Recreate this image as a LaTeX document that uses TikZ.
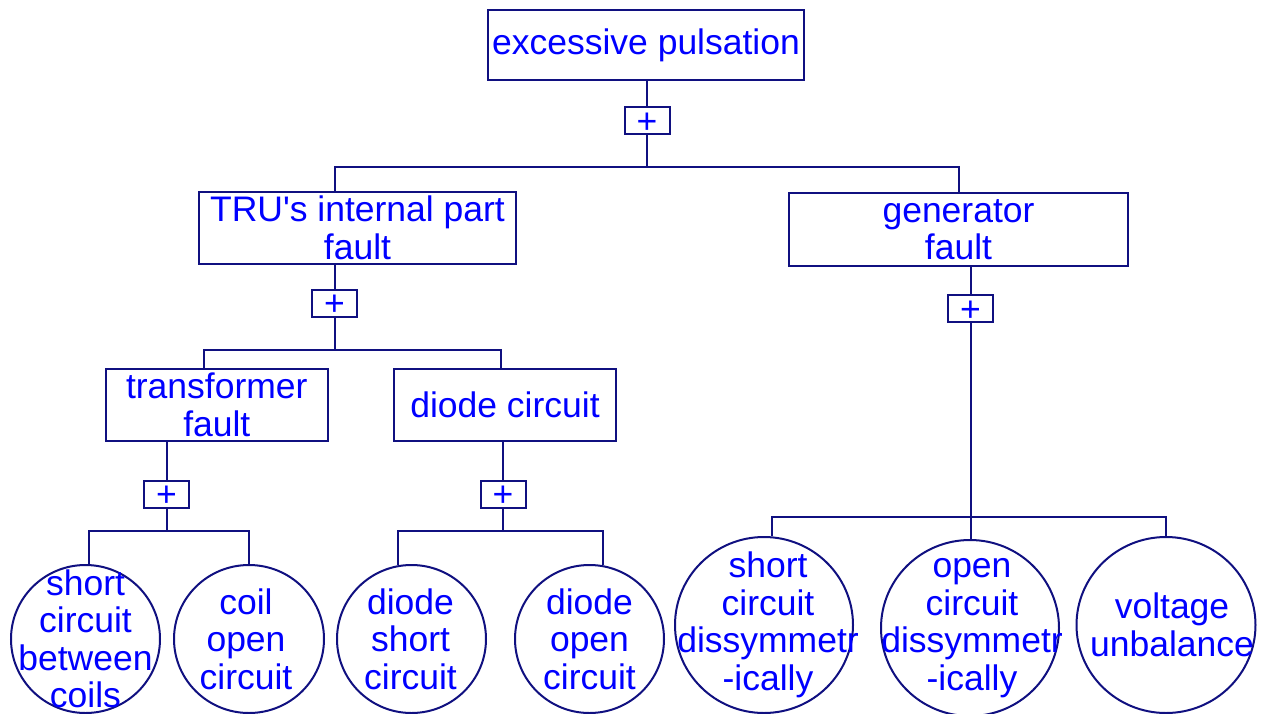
\documentclass[tikz,border=0pt]{standalone}
\usepackage{fontspec}
\setmainfont{Liberation Sans}[Ligatures=TeXOff]
\usetikzlibrary{shapes.geometric}
\definecolor{lineColor}{RGB}{16,16,128}
\definecolor{textColor}{RGB}{0,0,255}
\newcommand{\eventFont}{\fontsize{35.5}{37.5}\selectfont}
\tikzstyle{faultTree} = [x = 1pt, y = -1pt]
\tikzstyle{treeLine} = [color=lineColor, line width=2pt]
\tikzstyle{faultBoxStyle} = [rectangle, draw=lineColor, line width=2pt, inner sep=0pt, text=textColor, align=center, font=\eventFont]
\tikzstyle{gateStyle} = [rectangle, draw=lineColor, line width=2pt, inner sep=0pt, text=textColor, font=\eventFont, minimum width=45, minimum height=27]
\tikzstyle{eventCircle} = [ellipse, draw=lineColor, line width=2pt, inner sep=0pt]
\tikzstyle{eventText} = [text=textColor, align=center, font=\eventFont, inner sep=0pt]
\newcommand{\faultBox}[6]{\node [faultBoxStyle, minimum width=#4, minimum height=#5] (#1) at (#2,#3) {#6};}
\newcommand{\gate}[3]{\node [gateStyle] (#1) at (#2,#3) {\raisebox{-12.5pt}[0pt][0pt]{+}};}
\newcommand{\basicEvent}[7]{
  \node [eventCircle, minimum width=#4, minimum height=#5] (#1) at (#2,#3) {};
  \node [eventText] (#1Text) at ([xshift=#6]#1.center) {#7};
}
\begin{document}
\begin{tikzpicture}[faultTree]
\useasboundingbox (0,0) rectangle (1262,713);
\faultBox{pulsation}{646}{45}{316}{70}{excessive pulsation}
\faultBox{truFault}{357.5}{228}{317}{72}{TRU's internal part\\fault}
\faultBox{genFault}{958.5}{229.5}{339}{73}{generator\\fault}
\faultBox{transFault}{216.8}{405}{221.5}{72}{transformer\\fault}
\faultBox{diodeFault}{505}{405}{222}{72}{diode circuit}
\gate{topGate}{647}{120.5}
\gate{truGate}{334.5}{303}
\gate{genGate}{970.5}{308.5}
\gate{transGate}{166.5}{494}
\gate{diodeGate}{503}{494}
\basicEvent{shortCircuitCoils}{85.5}{639}{149}{148}{0}{short\\circuit\\between\\coils}
\basicEvent{coilOpen}{249}{639}{150}{148}{-3}{coil\\open\\circuit}
\basicEvent{diodeShort}{411.5}{639}{149}{148}{-1}{diode\\short\\circuit}
\basicEvent{diodeOpen}{589.5}{639}{149}{148}{0}{diode\\open\\circuit}
\basicEvent{shortDissym}{764}{625}{178}{176}{4}{short\\circuit\\dissymmetr\\-ically}
\basicEvent{openDissym}{970}{628}{178}{176}{2}{open\\circuit\\dissymmetr\\-ically}
\basicEvent{voltageUnbalance}{1166}{625}{179}{176}{6}{voltage\\unbalance}
\coordinate (topBus) at (647,167);
\coordinate (truBus) at (334.5,350);
\coordinate (genBus) at (970.5,517);
\coordinate (transBus) at (166.5,531);
\coordinate (diodeBus) at (503,531);
\draw [treeLine] (pulsation.south -| topGate) -- (topGate);
\draw [treeLine] (topGate) -- (topBus);
\draw [treeLine] (truFault.north -| truGate) |- (topBus) -| (genFault.north);
\draw [treeLine] (truFault.south -| truGate) -- (truGate);
\draw [treeLine] (truGate) -- (truBus);
\draw [treeLine] ([xshift=-12.8]transFault.north) |- (truBus) -| ([xshift=-4]diodeFault.north);
\draw [treeLine] (genFault.south -| genGate) -- (genGate);
\draw [treeLine] (genGate) -- (genGate |- openDissym.north);
\draw [treeLine] (shortDissym.85) |- (genBus) -| (voltageUnbalance.north);
\draw [treeLine] (transFault.south -| transGate) -- (transGate);
\draw [treeLine] (transGate) -- (transBus);
\draw [treeLine] (shortCircuitCoils.87) |- (transBus) -| (coilOpen.north);
\draw [treeLine] (diodeFault.south -| diodeGate) -- (diodeGate);
\draw [treeLine] (diodeGate) -- (diodeBus);
\draw [treeLine] (diodeShort.100) |- (diodeBus) -| (diodeOpen.80);
\end{tikzpicture}
\end{document}
